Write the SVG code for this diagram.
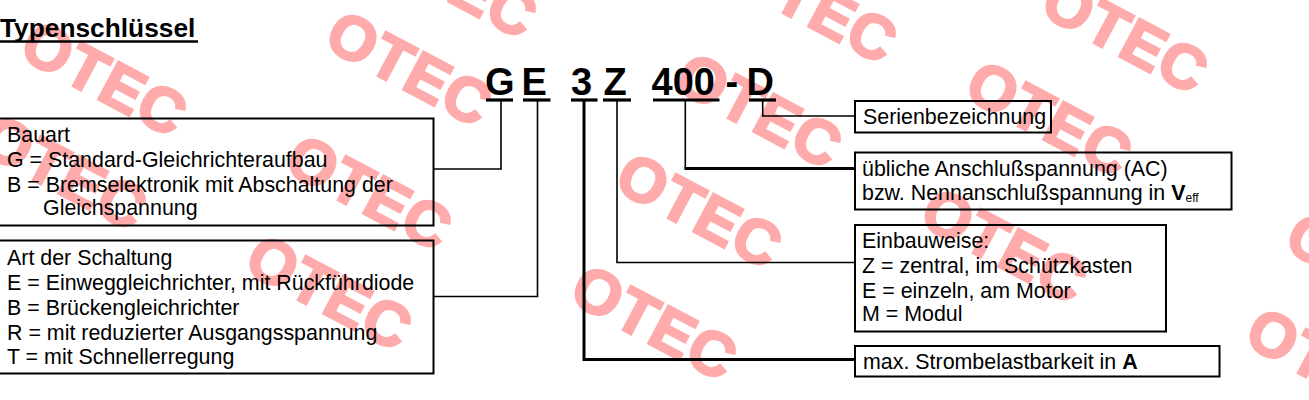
<svg xmlns="http://www.w3.org/2000/svg" width="1309" height="400" viewBox="0 0 1309 400">
<style>
.wm{font-family:"Liberation Sans",Arial,sans-serif;font-weight:bold;font-size:62px;fill:#ffabab;stroke:#ffabab;stroke-width:2.5;letter-spacing:1px;text-anchor:middle}
.t{font-family:"Liberation Sans",Arial,sans-serif;font-size:21.4px;fill:#000}
.code{font-family:"Liberation Sans",Arial,sans-serif;font-size:38px;font-weight:bold;fill:#000}
.box{fill:none;stroke:#000;stroke-width:2}
.ul{stroke:#000;stroke-width:3.2}
.c1{fill:none;stroke:#000;stroke-width:1.6}
.c2{fill:none;stroke:#000;stroke-width:3}
</style>
<rect width="1309" height="400" fill="#fff"/>
<g id="watermark">
<text class="wm" x="105" y="100" transform="rotate(28 105 78)">OTEC</text>
<text class="wm" x="410" y="90" transform="rotate(28 410 68)">OTEC</text>
<text class="wm" x="455" y="2" transform="rotate(28 455 -20)">OTEC</text>
<text class="wm" x="815" y="27" transform="rotate(28 815 5)">OTEC</text>
<text class="wm" x="1126" y="57" transform="rotate(28 1126 35)">OTEC</text>
<text class="wm" x="1050" y="140" transform="rotate(28 1050 118)">OTEC</text>
<text class="wm" x="760" y="132" transform="rotate(28 760 110)">OTEC</text>
<text class="wm" x="700" y="232" transform="rotate(28 700 210)">OTEC</text>
<text class="wm" x="1005" y="267" transform="rotate(28 1005 245)">OTEC</text>
<text class="wm" x="655" y="344" transform="rotate(28 655 322)">OTEC</text>
<text class="wm" x="330" y="314" transform="rotate(28 330 292)">OTEC</text>
<text class="wm" x="370" y="214" transform="rotate(28 370 192)">OTEC</text>
<text class="wm" x="65" y="194" transform="rotate(28 65 172)">OTEC</text>
<text class="wm" x="1370" y="292" transform="rotate(28 1370 270)">OTEC</text>
<text class="wm" x="1330" y="387" transform="rotate(28 1330 365)">OTEC</text>
</g>
<g id="title">
<text x="0" y="37" font-family="Liberation Sans, Arial, sans-serif" font-size="26.3" font-weight="bold">Typenschlüssel</text>
<line x1="0" y1="41.5" x2="198" y2="41.5" stroke="#000" stroke-width="2.6"/>
</g>
<g id="code">
<text class="code" x="485" y="94.5">G</text>
<text class="code" x="521.5" y="94.5">E</text>
<text class="code" x="571" y="94.5">3</text>
<text class="code" x="603.5" y="94.5">Z</text>
<text class="code" x="651.5" y="94.5">400</text>
<text class="code" x="725.5" y="94.5">-</text>
<text class="code" x="746.5" y="94.5">D</text>
<line class="ul" x1="486" y1="100" x2="513" y2="100"/>
<line class="ul" x1="523" y1="100" x2="550.5" y2="100"/>
<line class="ul" x1="571" y1="100" x2="597.5" y2="100"/>
<line class="ul" x1="603" y1="100" x2="631" y2="100"/>
<line class="ul" x1="653" y1="100" x2="719.5" y2="100"/>
<line class="ul" x1="749" y1="100" x2="776" y2="100"/>
</g>
<g id="connectors">
<polyline class="c1" points="501,101 501,169 433,169"/>
<polyline class="c1" points="537.5,101 537.5,296.5 433,296.5"/>
<polyline class="c2" points="584,101 584,359.5 856,359.5"/>
<polyline class="c1" points="617,101 617,262.5 855,262.5"/>
<polyline class="c1" points="685.3,101 685.3,168.5"/>
<line class="c2" x1="684.5" y1="168.5" x2="856" y2="168.5"/>
<polyline class="c1" points="762.7,101 762.7,116 855,116"/>
</g>
<g id="box-bauart">
<rect class="box" x="-1" y="118.5" width="434.5" height="107"/>
<text class="t" x="7" y="142">Bauart</text>
<text class="t" x="7" y="167">G = Standard-Gleichrichteraufbau</text>
<text class="t" x="7" y="192">B = Bremselektronik mit Abschaltung der</text>
<text class="t" x="43" y="215">Gleichspannung</text>
</g>
<g id="box-schaltung">
<rect class="box" x="-1" y="240.5" width="434.5" height="133"/>
<text class="t" x="7" y="265">Art der Schaltung</text>
<text class="t" x="7" y="290">E = Einweggleichrichter, mit Rückführdiode</text>
<text class="t" x="7" y="315">B = Brückengleichrichter</text>
<text class="t" x="7" y="340">R = mit reduzierter Ausgangsspannung</text>
<text class="t" x="7" y="364">T = mit Schnellerregung</text>
</g>
<g id="box-serie">
<rect class="box" x="855" y="101" width="196" height="31.5"/>
<text class="t" x="863" y="123.5">Serienbezeichnung</text>
</g>
<g id="box-spannung">
<rect class="box" x="855" y="152.5" width="376.5" height="57"/>
<text class="t" x="862" y="176">übliche Anschlußspannung (AC)</text>
<text class="t" x="862" y="200">bzw. Nennanschlußspannung in <tspan font-weight="bold">V</tspan><tspan font-size="12" dy="2">eff</tspan></text>
</g>
<g id="box-einbau">
<rect class="box" x="855" y="225" width="311" height="106.5"/>
<text class="t" x="862" y="248">Einbauweise:</text>
<text class="t" x="862" y="273">Z = zentral, im Schützkasten</text>
<text class="t" x="862" y="298">E = einzeln, am Motor</text>
<text class="t" x="862" y="321">M = Modul</text>
</g>
<g id="box-strom">
<rect class="box" x="855" y="346" width="364.5" height="30.5"/>
<text class="t" x="863" y="368.5">max. Strombelastbarkeit in <tspan font-weight="bold">A</tspan></text>
</g>
</svg>
